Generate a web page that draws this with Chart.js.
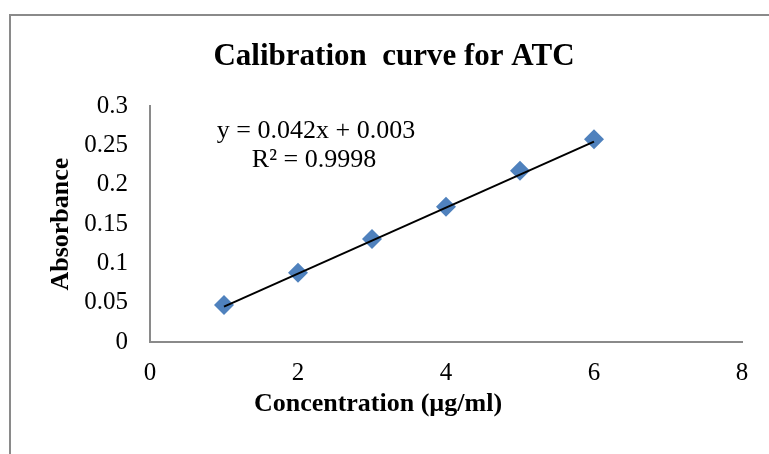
<!DOCTYPE html>
<html>
<head>
<meta charset="utf-8">
<script src="https://cdn.jsdelivr.net/npm/chart.js@4.4.0/dist/chart.umd.min.js"></script>
<style>
  body { margin: 0; background: #fff; }
  #frame { position: absolute; left: 9px; top: 14px; width: 800px; height: 500px;
           border-left: 2px solid #8a8a8a; border-top: 2px solid #8a8a8a; }
  #myChart { position: absolute; left: 0; top: 0; }
</style>
</head>
<body>
<div id="frame"></div>
<canvas id="myChart" width="769" height="454"></canvas>
<script>
const concentration = [1, 2, 3, 4, 5, 6];
const absorbance = [0.047, 0.088, 0.131, 0.172, 0.218, 0.258];
const trendX = [1, 6];
const slope = 0.042;
const intercept = 0.003;
const xTicks = [0, 2, 4, 6, 8];
const yTicks = [0, 0.05, 0.1, 0.15, 0.2, 0.25, 0.3];
const equationLines = ['y = 0.042x + 0.003', 'R\u00B2 = 0.9998'];
const xTitle = 'Concentration (\u00B5g/ml)';

const serif = "'Liberation Serif', 'Times New Roman', serif";

const trendData = trendX.map(x => ({x: x, y: slope * x + intercept}));
const pointData = concentration.map((x, i) => ({x: x, y: absorbance[i]}));

// trendline equation + x axis title (excel puts it off-centre)
const textPlugin = {
    id: 'extraText',
    afterDatasetsDraw(chart){
        const ctx = chart.ctx;
        ctx.save();
        ctx.fillStyle = '#000';
        ctx.textAlign = 'center';
        ctx.textBaseline = 'middle';
        ctx.font = "26px " + serif;
        ctx.fillText(equationLines[0], 316, 131);
        ctx.fillText(equationLines[1], 314, 160);
        ctx.font = "bold 26px " + serif;
        ctx.fillText(xTitle, 378, 404);
        ctx.restore();
    }
};

const ctx = document.getElementById('myChart');

new Chart(ctx, {
    type: 'scatter',
    data: {
        datasets: [
        {
            type: 'line',
            data: trendData,
            borderColor: '#000000',
            borderWidth: 2,
            pointRadius: 0,
            fill: false
        },
        {
            data: pointData,
            pointStyle: 'rectRot',
            pointRadius: 10,
            pointHoverRadius: 10,
            backgroundColor: '#4F81BD',
            borderColor: '#4F81BD',
            borderWidth: 0
        }
        ]
    },
    options: {
        responsive: false,
        animation: false,
        layout: {padding: {left: 46, right: 27, top: 0, bottom: 36}},
        plugins: {
            legend: {display: false},
            tooltip: {enabled: false},
            title: {
                display: true,
                text: 'Calibration  curve for ATC',
                color: '#000',
                font: {family: serif, size: 31, weight: 'bold', lineHeight: 1.2},
                padding: {top: 38, bottom: 31}
            }
        },
        scales: {
            x: {
                type: 'linear',
                min: 0,
                max: 8,
                afterBuildTicks: (scale) => { scale.ticks = xTicks.map(v => ({value: v})); },
                afterFit: (scale) => { scale.height = 454 - 342 - 36; },
                grid: {display: false, drawTicks: false},
                border: {display: true, color: '#8a8a8a', width: 2},
                ticks: {color: '#000', padding: 16, font: {family: serif, size: 25}}
            },
            y: {
                type: 'linear',
                min: 0,
                max: 0.3,
                afterBuildTicks: (scale) => { scale.ticks = yTicks.map(v => ({value: v})); },
                afterFit: (scale) => { scale.width = 150 - 46; },
                grid: {display: false, drawTicks: false},
                border: {display: true, color: '#8a8a8a', width: 2},
                ticks: {color: '#000', padding: 22, font: {family: serif, size: 25},
                    callback: (v) => String(parseFloat(v.toFixed(2)))},
                title: {
                    display: true,
                    text: 'Absorbance',
                    color: '#000',
                    font: {family: serif, size: 26, weight: 'bold', lineHeight: 1.2},
                    padding: {top: 0, bottom: 0}
                }
            }
        }
    },
    plugins: [textPlugin]
});
</script>
</body>
</html>
